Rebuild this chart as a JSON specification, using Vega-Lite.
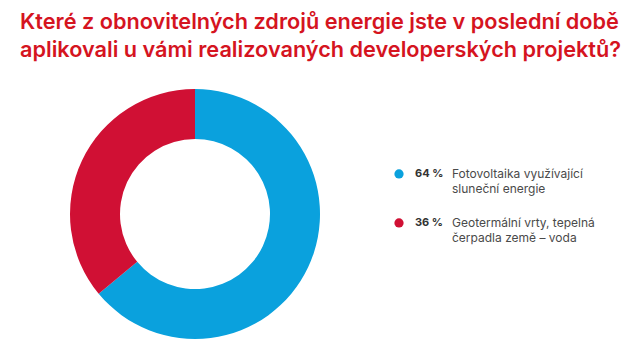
{
  "$schema": "https://vega.github.io/schema/vega-lite/v6.json",
  "background": "white",
  "padding": {"left": 20, "top": 12, "right": 5, "bottom": 5},
  "title": {
    "text": ["Které z obnovitelných zdrojů energie jste v poslední době", "aplikovali u vámi realizovaných developerských projektů?"],
    "anchor": "start",
    "fontSize": 21.7,
    "font": "Inter",
    "fontWeight": 600,
    "color": "#d5141f",
    "lineHeight": 28,
    "offset": 27
  },
  "data": {
    "values": [
      {"category": "Fotovoltaika", "value": 64, "pct": "64 %", "label": "Fotovoltaika využívající\nsluneční energie"},
      {"category": "Geotermální", "value": 36, "pct": "36 %", "label": "Geotermální vrty, tepelná\nčerpadla země – voda"}
    ]
  },
  "spacing": 24,
  "hconcat": [
    {
      "width": 350,
      "height": 250,
      "mark": {"type": "arc", "outerRadius": 125, "innerRadius": 75},
      "encoding": {
        "theta": {"field": "value", "type": "quantitative", "stack": true},
        "color": {
          "field": "category",
          "type": "nominal",
          "scale": {"domain": ["Fotovoltaika", "Geotermální"], "range": ["#0aa1dd", "#d01034"]},
          "legend": null
        },
        "order": {"field": "category"}
      }
    },
    {
      "width": 10,
      "height": 147,
      "encoding": {
        "y": {"field": "category", "type": "nominal", "axis": null, "sort": ["Fotovoltaika", "Geotermální"], "scale": {"padding": 1, "align": 0.867}}
      },
      "layer": [
        {
          "mark": {"type": "point", "filled": true, "size": 85, "opacity": 1},
          "encoding": {
            "color": {
              "field": "category",
              "type": "nominal",
              "scale": {"domain": ["Fotovoltaika", "Geotermální"], "range": ["#0aa1dd", "#d01034"]},
              "legend": null
            }
          }
        },
        {
          "mark": {"type": "text", "align": "left", "baseline": "middle", "dx": 16, "font": "Inter", "fontWeight": "bold", "fontSize": 11, "color": "#333333"},
          "encoding": {"text": {"field": "pct"}}
        },
        {
          "mark": {"type": "text", "align": "left", "baseline": "middle", "dx": 53, "font": "Inter", "fontSize": 12, "color": "#4a4a4a", "lineBreak": "\n", "lineHeight": 15.5},
          "encoding": {"text": {"field": "label"}}
        }
      ]
    }
  ],
  "config": {"view": {"stroke": null}}
}
